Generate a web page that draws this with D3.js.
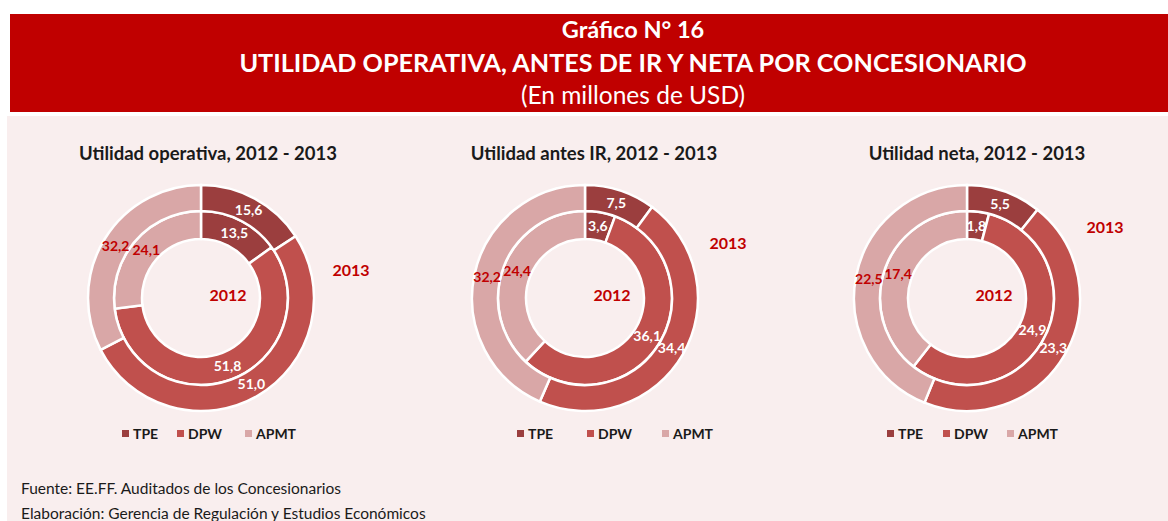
<!DOCTYPE html>
<html>
<head>
<meta charset="utf-8">
<script src="https://cdn.jsdelivr.net/npm/d3@7"></script>
<style>
  body { margin: 0; background: #fff; }
  svg { display: block; font-family: Lato, "Open Sans", sans-serif; }
</style>
</head>
<body>
<div id="chart"></div>
<script>
/**
 * DATA
 * */
const companies = ["TPE", "DPW", "APMT"];
const chartTitles = ["Utilidad operativa, 2012 - 2013", "Utilidad antes IR, 2012 - 2013", "Utilidad neta, 2012 - 2013"];
const values2012 = [
  [13.5, 51.8, 24.1],
  [3.6, 36.1, 24.4],
  [1.8, 24.9, 17.4]
];
const values2013 = [
  [15.6, 51.0, 32.2],
  [7.5, 34.4, 32.2],
  [5.5, 23.3, 22.5]
];
const yearLabels = ["2012", "2013"];

/**
 * CONSTANTS AND LAYOUT
 * */
const width = 1168, height = 521;
const colors = d3.scaleOrdinal().domain(companies).range(["#9b3e3e", "#c0504d", "#d9a7a7"]);
const labelColors = d3.scaleOrdinal().domain(companies).range(["#fff", "#fff", "#c00000"]);
const darkRed = "#c00000";
// placement of each of the three donuts
const panels = [
  { cx: 201, cy: 298, titleX: 208, y2013: [351, 270], legend: [122, 177, 245] },
  { cx: 585, cy: 298, titleX: 594, y2013: [728, 243], legend: [517, 587, 662] },
  { cx: 967, cy: 298, titleX: 977, y2013: [1105, 227], legend: [887, 943, 1007] }
];
const rInner = [59, 87], rOuter = [87, 113];

const svg = d3.select("#chart").append("svg")
  .attr("width", width)
  .attr("height", height);

// header band
svg.append("rect").attr("x", 10).attr("y", 14).attr("width", width - 10).attr("height", 98).attr("fill", darkRed);
// panel background
svg.append("rect").attr("x", 7).attr("y", 116).attr("width", width - 7).attr("height", height - 116).attr("fill", "#f9eeee");

const header = svg.append("g").attr("fill", "#fff").attr("text-anchor", "middle");
header.append("text").attr("x", 633).attr("y", 38).attr("font-size", 23.5).attr("font-weight", "bold").text("Gráfico N° 16");
header.append("text").attr("x", 633).attr("y", 72).attr("font-size", 25.2).attr("font-weight", "bold")
  .text("UTILIDAD OPERATIVA, ANTES DE IR Y NETA POR CONCESIONARIO");
header.append("text").attr("x", 633).attr("y", 104).attr("font-size", 24.5).text("(En millones de USD)");

const pie = d3.pie().sort(null).value(d => d.value);

panels.forEach((p, i) => {
  const g = svg.append("g").attr("transform", `translate(${p.cx},${p.cy})`);

  svg.append("text")
    .attr("x", p.titleX).attr("y", 160)
    .attr("text-anchor", "middle")
    .attr("font-size", 18.5).attr("font-weight", "bold").attr("fill", "#1a1a1a")
    .text(chartTitles[i]);

  const rings = [
    { data: companies.map((c, j) => ({ key: c, value: values2012[i][j] })), r: rInner },
    { data: companies.map((c, j) => ({ key: c, value: values2013[i][j] })), r: rOuter }
  ];

  rings.forEach(ring => {
    const arc = d3.arc().innerRadius(ring.r[0]).outerRadius(ring.r[1]);
    const arcs = pie(ring.data);
    g.append("g").selectAll("path")
      .data(arcs)
      .join("path")
      .attr("d", arc)
      .attr("fill", d => colors(d.data.key))
      .attr("stroke", "#fff")
      .attr("stroke-width", 2.5);
    g.append("g").selectAll("text")
      .data(arcs)
      .join("text")
      .attr("transform", d => `translate(${arc.centroid(d)})`)
      .attr("text-anchor", "middle")
      .attr("dy", "0.35em")
      .attr("font-size", 14).attr("font-weight", "bold")
      .attr("fill", d => labelColors(d.data.key))
      .text(d => d3.format(".1f")(d.data.value).replace(".", ","));
  });

  g.append("text")
    .attr("x", 27).attr("y", -3).attr("dy", "0.35em")
    .attr("text-anchor", "middle")
    .attr("font-size", 16).attr("font-weight", "bold").attr("fill", darkRed)
    .text(yearLabels[0]);
  svg.append("text")
    .attr("x", p.y2013[0]).attr("y", p.y2013[1]).attr("dy", "0.35em")
    .attr("text-anchor", "middle")
    .attr("font-size", 16).attr("font-weight", "bold").attr("fill", darkRed)
    .text(yearLabels[1]);

  // legend
  const item = svg.append("g").attr("transform", "translate(0,434)")
    .selectAll("g").data(companies).join("g")
    .attr("transform", (d, j) => `translate(${p.legend[j]},0)`);
  item.append("rect").attr("x", 0).attr("y", -4).attr("width", 7).attr("height", 7).attr("fill", d => colors(d));
  item.append("text").attr("x", 11).attr("dy", "0.35em").attr("font-size", 14).attr("font-weight", "bold")
    .attr("fill", "#1a1a1a").text(d => d);
});

const foot = svg.append("g").attr("font-size", 15.5).attr("fill", "#1a1a1a");
foot.append("text").attr("x", 21).attr("y", 494).text("Fuente: EE.FF. Auditados de los Concesionarios");
foot.append("text").attr("x", 21).attr("y", 519).text("Elaboración: Gerencia de Regulación y Estudios Económicos");
</script>
</body>
</html>
